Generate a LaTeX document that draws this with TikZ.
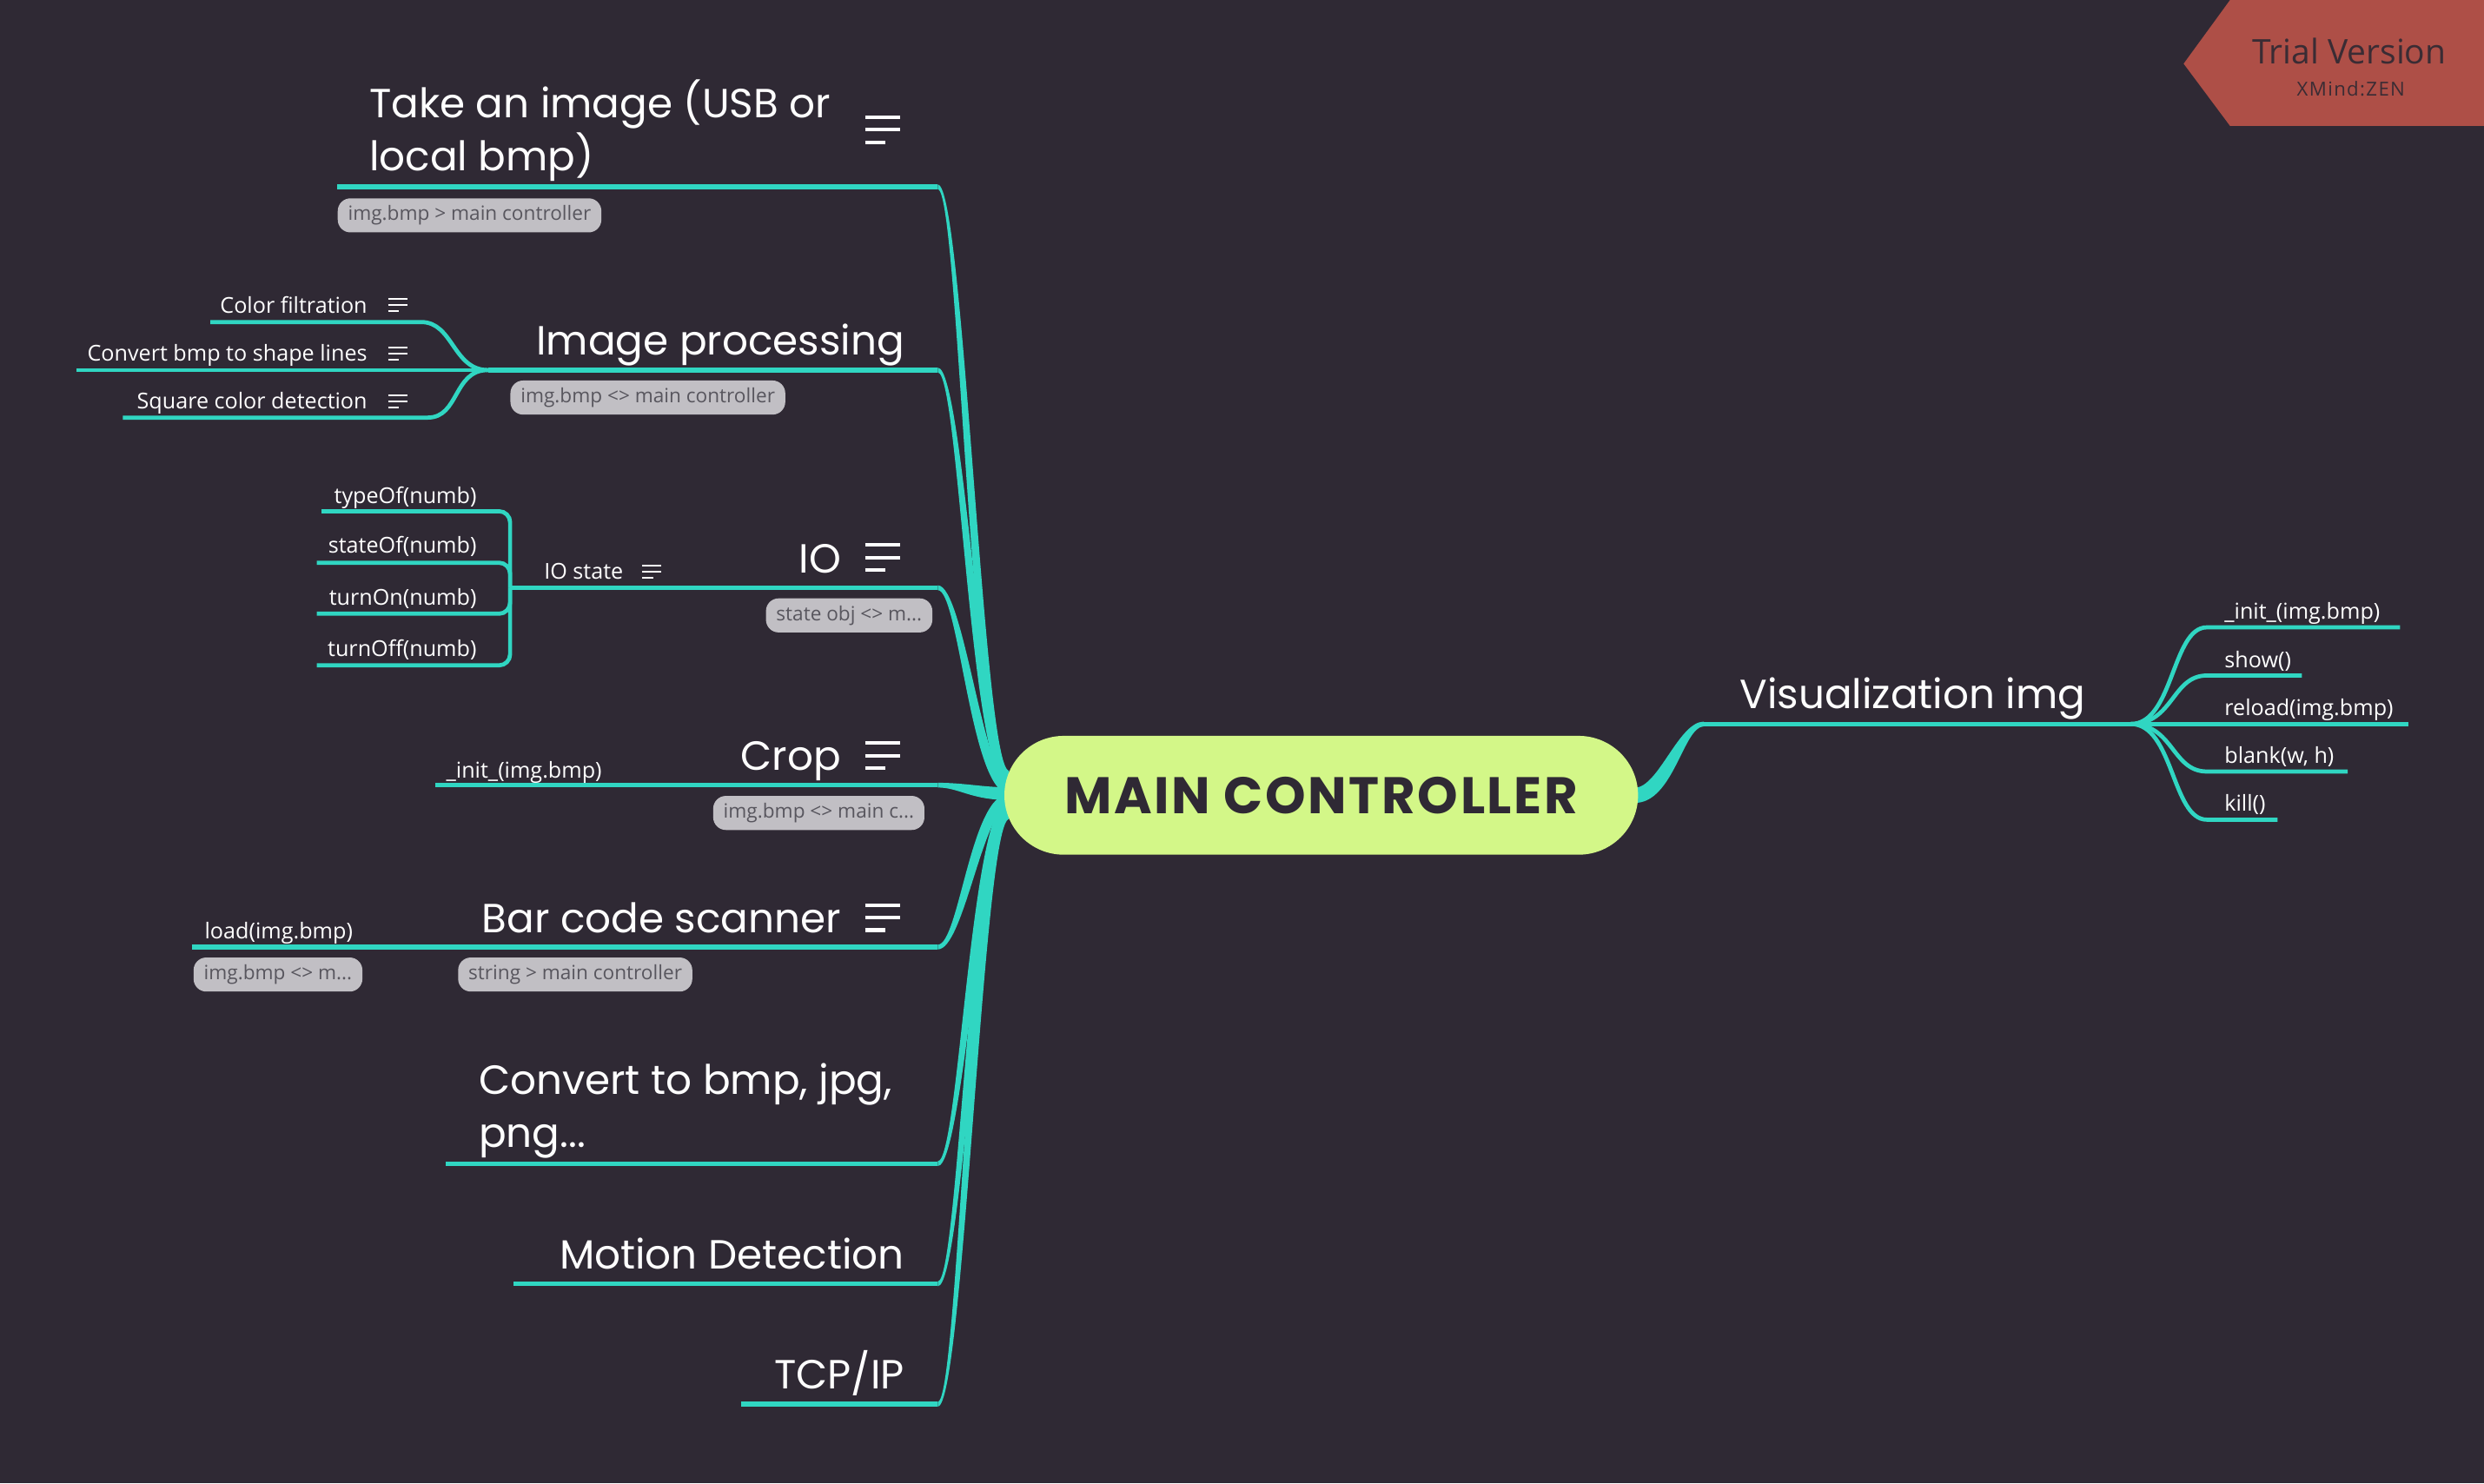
\documentclass[tikz,border=0pt]{standalone}
\usepackage{fontspec}
\setmainfont{Poppins}
\newfontfamily\mcfont{Poppins}[LetterSpace=4.5]
\newfontfamily\smallfont{Open Sans}
\newfontfamily\zenfont{Open Sans}[LetterSpace=6]
\usetikzlibrary{calc}
\definecolor{bg}{RGB}{47,41,52}
\definecolor{branchc}{RGB}{48,214,194}
\definecolor{mcfill}{RGB}{211,247,136}
\definecolor{darktxt}{RGB}{47,41,52}
\definecolor{notefill}{RGB}{193,191,196}
\definecolor{notetxt}{RGB}{88,86,94}
\definecolor{bannerc}{RGB}{174,79,71}
\definecolor{bannertxt}{RGB}{58,44,52}
\tikzset{
  ln/.style={draw=branchc, line width=3pt},
  subln/.style={draw=branchc, line width=2.6pt},
  topic/.style={inner sep=0pt, text=white, font=\fontsize{25.7}{33.3}\selectfont},
  small/.style={inner sep=0pt, text=white, font=\smallfont\fontsize{13.8}{16}\selectfont},
  note/.style={fill=notefill, rounded corners=8pt, text=notetxt, font=\smallfont\fontsize{12.4}{14}\selectfont, inner xsep=6.5pt, inner ysep=0pt, minimum height=21.5pt, anchor=north west},
  bigicon/.pic={\draw[white, line width=2.2pt] (0,0) -- (22,0) (0,7.9) -- (22,7.9) (0,15.8) -- (13,15.8);},
  smallicon/.pic={\draw[white, line width=1.3pt] (0,0) -- (12,0) (0,3.9) -- (12,3.9) (0,7.8) -- (7,7.8);},
}
\newcommand\taper[4]{%
  \fill[branchc] let \p1=(#1), \p2=(#2),
    \n1={((\y2-\y1)/max(abs(\y2-\y1),0.01))*((\x2-\x1)/max(abs(\x2-\x1),0.01))},
    \n2={\x2-\x1} in
    ({\x1},{\y1+#3}) .. controls ({\x1+0.33*\n2-\n1*#3},{\y1+#3}) and ({\x2-0.45*\n2-\n1*#4},{\y2+#4}) .. ({\x2},{\y2+#4})
    -- ({\x2},{\y2-#4}) .. controls ({\x2-0.45*\n2+\n1*#4},{\y2-#4}) and ({\x1+0.33*\n2+\n1*#3},{\y1-#3}) .. ({\x1},{\y1-#3}) -- cycle;}
\begin{document}
\begin{tikzpicture}[x=1pt, y=-1pt]
\fill[bg] (0,0) rectangle (1568,936.2);
\useasboundingbox (0,0) rectangle (1568,936.2);

% ---------- coordinates ----------
\coordinate (takeS) at (213,118);   \coordinate (takeE) at (592,118);
\coordinate (ipJ)   at (308,233.6); \coordinate (ipE)   at (592,233.6);
\coordinate (ioJ)   at (322,371);   \coordinate (ioE)   at (592,371);
\coordinate (cropS) at (275,495.6); \coordinate (cropE) at (592,495.6);
\coordinate (barS)  at (121,597.8); \coordinate (barE)  at (592,597.8);
\coordinate (convS) at (281.4,734.5); \coordinate (convE) at (592,734.5);
\coordinate (motS)  at (324.2,810.4); \coordinate (motE)  at (592,810.4);
\coordinate (tcpS)  at (467.7,886.3); \coordinate (tcpE)  at (592,886.3);
% ends at the main topic
\coordinate (mcTake) at (637,490.5);
\coordinate (mcIp)   at (637,493.5);
\coordinate (mcIo)   at (637,497);
\coordinate (mcCrop) at (637,501);
\coordinate (mcBar)  at (637,505);
\coordinate (mcConv) at (637,508);
\coordinate (mcMot)  at (637,510.5);
\coordinate (mcTcp)  at (637,513);
\coordinate (mcR)    at (1032,502);
% right side
\coordinate (vS) at (1075.5,457); \coordinate (vJ) at (1345,457);
\coordinate (initS) at (1393,396);  \coordinate (initE) at (1515,396);
\coordinate (showS) at (1393,426.4); \coordinate (showE) at (1453,426.4);
\coordinate (relE)  at (1520,457);
\coordinate (blankS) at (1393,487); \coordinate (blankE) at (1482,487);
\coordinate (killS) at (1393,517.4); \coordinate (killE) at (1437.6,517.4);
% image processing children
\coordinate (cfS) at (132.8,203.3); \coordinate (cfE) at (266,203.3);
\coordinate (cbS) at (48,233.6);
\coordinate (sqS) at (77.6,263.6);  \coordinate (sqE) at (270,263.6);
% IO state children
\coordinate (tyS) at (203,322.7);
\coordinate (stS) at (200,355.2);
\coordinate (onS) at (200,387.4);
\coordinate (offS) at (200,420);

% ---------- tapered branches ----------
\taper{takeE}{mcTake}{1.5pt}{4pt}
\taper{ipE}{mcIp}{1.5pt}{4pt}
\taper{ioE}{mcIo}{1.5pt}{4pt}
\taper{cropE}{mcCrop}{1.5pt}{4pt}
\taper{barE}{mcBar}{1.5pt}{4pt}
\taper{convE}{mcConv}{1.5pt}{4pt}
\taper{motE}{mcMot}{1.5pt}{4pt}
\taper{tcpE}{mcTcp}{1.5pt}{4pt}
\taper{vS}{mcR}{1.5pt}{4.8pt}

% ---------- underlines ----------
\draw[ln] (takeS) -- (takeE);
\draw[ln] (ipJ) -- (ipE);
\draw[ln] (ioJ) -- (ioE);
\draw[ln] (cropS) -- (cropE);
\draw[ln] (barS) -- (barE);
\draw[ln] (convS) -- (convE);
\draw[ln] (motS) -- (motE);
\draw[ln] (tcpS) -- (tcpE);
\draw[ln] (vS) -- (vJ);

% image processing children
\draw[subln] (ipJ) .. controls +(-22,0) and +(20,0) .. (cfE) -- (cfS);
\draw[subln] (ipJ) -- (cbS);
\draw[subln] (ipJ) .. controls +(-22,0) and +(20,0) .. (sqE) -- (sqS);
% IO state children (bracket)
\draw[subln, rounded corners=7pt] (tyS) -| (ioJ);
\draw[subln, rounded corners=7pt] (stS) -| (ioJ);
\draw[subln, rounded corners=7pt] (onS) -| (ioJ);
\draw[subln, rounded corners=7pt] (offS) -| (ioJ);
% right children
\draw[subln] (vJ) .. controls +(27,0) and +(-22,0) .. (initS) -- (initE);
\draw[subln] (vJ) .. controls +(27,0) and +(-22,0) .. (showS) -- (showE);
\draw[subln] (vJ) -- (relE);
\draw[subln] (vJ) .. controls +(27,0) and +(-22,0) .. (blankS) -- (blankE);
\draw[subln] (vJ) .. controls +(27,0) and +(-22,0) .. (killS) -- (killE);

% ---------- main topic ----------
\node[fill=mcfill, rounded corners=37.5pt, minimum width=400pt, minimum height=75pt, inner sep=0pt,
      text=darktxt, font=\mcfont\bfseries\fontsize{32.5}{36}\selectfont] (mc) at (834,502) {MAIN CONTROLLER};

% ---------- left topics ----------
\node[topic, anchor=base west, align=left] (take) at (233,107.7) {Take an image (USB or\\local bmp)};
\pic at (546,74) {bigicon};
\node[note] (takeN) at (213,125) {img.bmp > main controller};

\node[topic, anchor=base east] (ip) at (571,224.3) {Image processing};
\node[note] (ipN) at (322,240) {img.bmp <> main controller};
\node[small, anchor=base east] (cf) at (232,197.8) {Color filtration};
\pic at (245,188.7) {smallicon};
\node[small, anchor=base east] (cb) at (232,228) {Convert bmp to shape lines};
\pic at (245,219.4) {smallicon};
\node[small, anchor=base east] (sq) at (232,258) {Square color detection};
\pic at (245,249.5) {smallicon};

\node[topic, anchor=base east] (io) at (531,361.6) {IO};
\pic at (546,344) {bigicon};
\node[note] (ioN) at (483.3,377.5) {state obj <> m...};
\node[small, anchor=base west] (ios) at (343.3,365.6) {IO state};
\pic at (405.3,356.9) {smallicon};
\node[small, anchor=base east] (ty) at (301,317.7) {typeOf(numb)};
\node[small, anchor=base east] (st) at (301,349.2) {stateOf(numb)};
\node[small, anchor=base east] (on) at (301,382.1) {turnOn(numb)};
\node[small, anchor=base east] (off) at (301,414.6) {turnOff(numb)};

\node[topic, anchor=base east] (crop) at (531,486.3) {Crop};
\pic at (546,469) {bigicon};
\node[note] (cropN) at (450,502.2) {img.bmp <> main c...};
\node[small, anchor=base west] (cropi) at (281.5,491.4) {\_init\_(img.bmp)};

\node[topic, anchor=base east] (bar) at (531,588.6) {Bar code scanner};
\pic at (546,571.3) {bigicon};
\node[note] (barN) at (289,604.2) {string > main controller};
\node[small, anchor=base west] (load) at (129,592.8) {load(img.bmp)};
\node[note] (loadN) at (122,604.2) {img.bmp <> m...};

\node[topic, anchor=base west, align=left] (conv) at (302,724.3) {Convert to bmp, jpg,\\png...};
\node[topic, anchor=base east] (mot) at (571,801.1) {Motion Detection};
\node[topic, anchor=base east] (tcp) at (571,876.6) {TCP/IP};

% ---------- right topic ----------
\node[topic, anchor=base west] (viz) at (1098,447) {Visualization img};
\node[small, anchor=base west] (vinit) at (1404,391) {\_init\_(img.bmp)};
\node[small, anchor=base west] (vshow) at (1404,421.4) {show()};
\node[small, anchor=base west] (vrel) at (1404,451.6) {reload(img.bmp)};
\node[small, anchor=base west] (vblank) at (1404,481.7) {blank(w, h)};
\node[small, anchor=base west] (vkill) at (1404,511.9) {kill()};

% ---------- trial banner ----------
\fill[bannerc] (1407.7,0) -- (1568,0) -- (1568,79.5) -- (1407.7,79.5) -- (1378.4,40.2) -- cycle;
\node[inner sep=0pt, anchor=base west, text=bannertxt, font=\smallfont\fontsize{21.4}{24}\selectfont] (trial) at (1421.4,40.2) {Trial Version};
\node[inner sep=0pt, anchor=base west, text=bannertxt, font=\zenfont\fontsize{12.2}{14}\selectfont] (zen) at (1449.7,60.7) {XMind:ZEN};
\end{tikzpicture}
\end{document}
